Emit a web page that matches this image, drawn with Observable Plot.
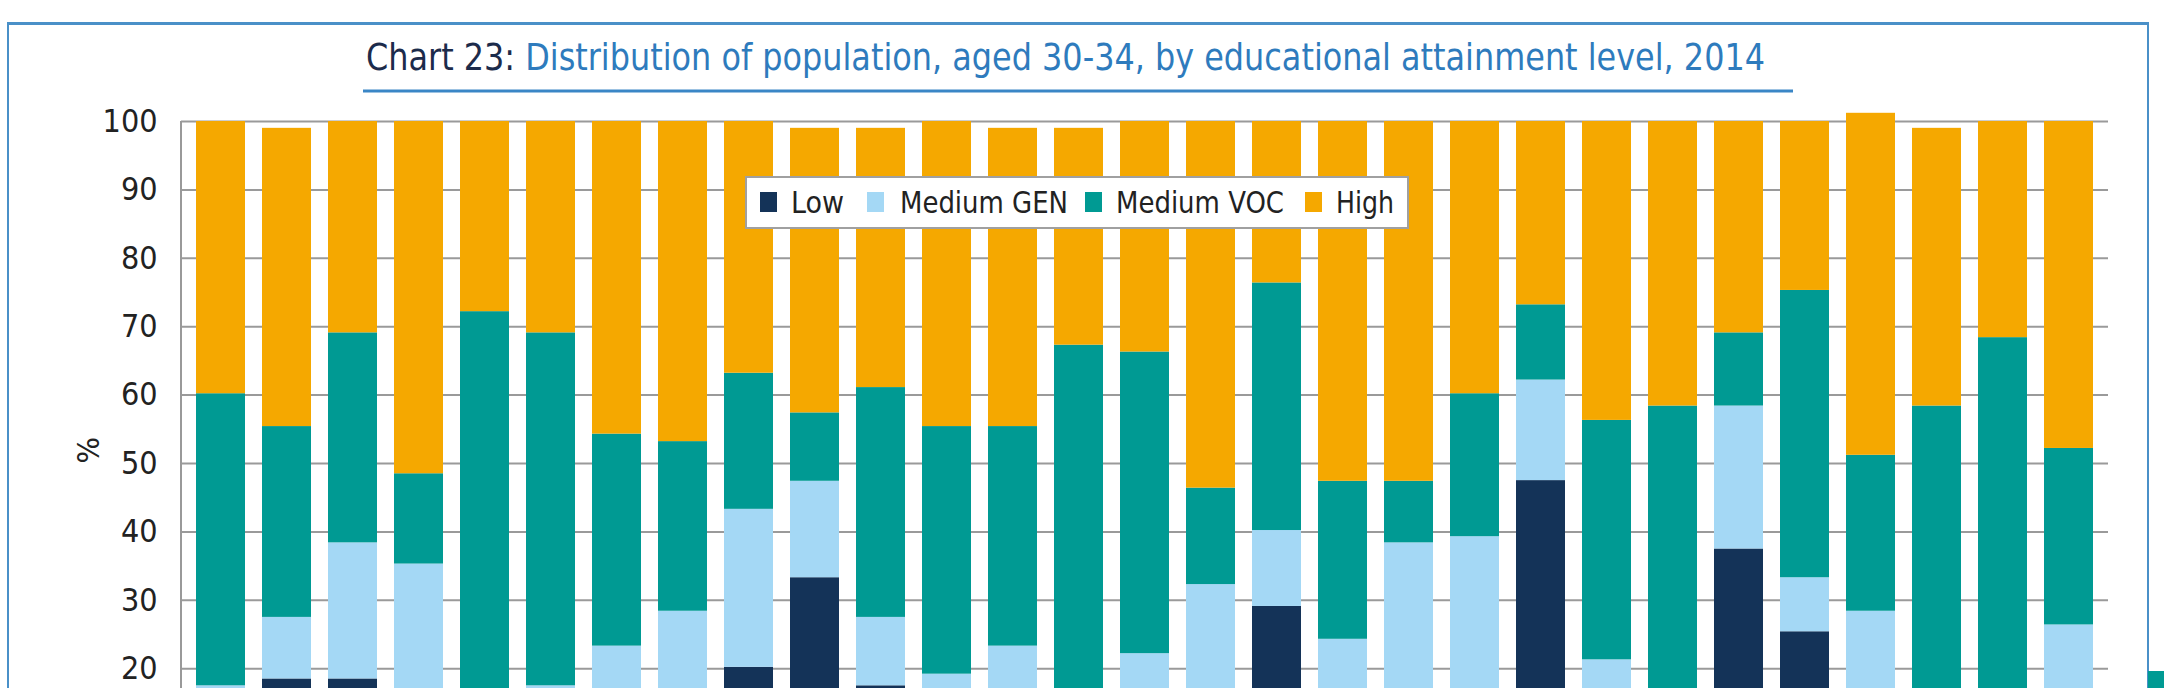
<!DOCTYPE html>
<html>
<head>
<meta charset="utf-8">
<script src="https://cdn.jsdelivr.net/npm/d3@7"></script>
<script src="https://cdn.jsdelivr.net/npm/@observablehq/plot@0.6"></script>
<style>
  html, body { margin: 0; padding: 0; background: #fff; }
  body { width: 2166px; height: 688px; overflow: hidden; position: relative;
         font-family: "DejaVu Sans Condensed", "Liberation Sans Narrow", "DejaVu Sans", sans-serif; }
  #frame { position: absolute; left: 7px; top: 22px; width: 2142px; height: 1000px; box-sizing: border-box;
           border: 2px solid #4a90c8; border-top-width: 3px; }
  #title, #chart, #legend { position: absolute; left: 0; top: 0; }
  #tab { position: absolute; left: 2148px; top: 671px; width: 16px; height: 40px; background: #009a93; }
</style>
</head>
<body>
<div id="frame"></div>
<div id="chart"></div>
<svg id="title" width="2166" height="110"></svg>
<svg id="legend" width="2166" height="260" style="pointer-events:none"></svg>
<div id="tab"></div>
<script>
// ---- data (shares in %) ----
const countries = ["AT","BE","BG","CY","CZ","DE","DK","EE","EL","ES","EU28","FI","FR","HR","HU",
                   "IE","IT","LT","LU","LV","MT","NL","PL","PT","RO","SE","SI","SK","UK"];
const levels = ["Low", "Medium GEN", "Medium VOC", "High"];
const colors = ["#143358", "#a4d8f5", "#009a93", "#f5a800"];
const low       = [10, 18.5, 18.5,  8,  6, 12, 15, 11, 20.2, 33.3, 17.5,  9, 15,  4, 13,
                   12, 29.1,  5, 13, 11, 47.5, 13,  5, 37.5, 25.4, 11,  5,  6, 14];
const mediumGen = [7.5,  9.0, 19.9, 27.3,  4,  5.5,  8.3, 17.4, 23.1, 14.1, 10.0, 10.2,  8.3,  9,  9.2,
                   20.3, 11.1, 19.3, 25.4, 28.3, 14.7,  8.3,  6, 20.9,  7.9, 17.4,  8,  3, 12.4];
const mediumVoc = [42.7, 27.9, 30.7, 13.2, 62.2, 51.6, 31.0, 24.8, 19.9, 10.0, 33.6, 36.2, 32.1, 54.3, 44.1,
                   14.1, 36.2, 23.1,  9.0, 20.9, 11.0, 35.0, 47.4, 10.7, 42.0, 22.8, 45.4, 59.4, 25.8];
const high      = [39.8, 43.6, 30.9, 51.5, 27.8, 30.9, 45.7, 46.8, 36.8, 41.6, 37.9, 44.6, 43.6, 31.7, 33.7,
                   53.6, 23.6, 52.6, 52.6, 39.8, 26.8, 43.7, 41.6, 30.9, 24.7, 50.0, 40.6, 31.6, 47.8];
const gridTicks = [0, 10, 20, 30, 40, 50, 60, 70, 80, 90, 100];
const labelTicks = [20, 30, 40, 50, 60, 70, 80, 90, 100]; // the labels visible in the picture
const titleLead = "Chart 23:";
const titleRest = " Distribution of population, aged 30-34, by educational attainment level, 2014";
const yLabel = "%";

const series = [low, mediumGen, mediumVoc, high];
const rows = [];
countries.forEach((c, i) => levels.forEach((lv, j) => rows.push({country: c, level: lv, value: series[j][i]})));

const FONT = '"DejaVu Sans Condensed", "Liberation Sans Narrow", "DejaVu Sans", sans-serif';

// y axis line drawn along the left edge of the plot area
const axisLine = (index, scales, values, dimensions) => {
  const x = dimensions.marginLeft;
  return d3.create("svg:line")
    .attr("x1", x).attr("x2", x)
    .attr("y1", scales.y(0)).attr("y2", scales.y(100))
    .attr("stroke", "#999").attr("stroke-width", 2).node();
};

const chart = Plot.plot({
  width: 2166,
  height: 865,
  marginLeft: 181,
  marginRight: 58,
  marginTop: 121,
  marginBottom: 60,
  style: {fontFamily: FONT, fontSize: "32px", color: "#222", background: "transparent", overflow: "visible"},
  x: {domain: countries, paddingInner: 0.255, paddingOuter: 0.13, align: 0.5, label: null, axis: null},
  y: {domain: [0, 100], label: null},
  color: {domain: levels, range: colors},
  marks: [
    Plot.gridY({ticks: gridTicks, stroke: "#9a9a9a", strokeOpacity: 1, strokeWidth: 2}),
    Plot.barY(rows, {x: "country", y: "value", fill: "level"}),
    axisLine,
    Plot.axisY({ticks: labelTicks, tickSize: 0, tickPadding: 24, label: null, fontSize: 32}),
    Plot.text([yLabel], {text: d => d, y: [50], frameAnchor: "left", dx: -92, rotate: -90, fontSize: 31, fill: "#222"})
  ]
});
document.getElementById("chart").appendChild(chart);

// ---- title ----
const t = d3.select("#title");
const tt = t.append("text").attr("x", 366).attr("y", 70)
  .attr("font-family", FONT).attr("font-size", 38)
  .attr("textLength", 1399).attr("lengthAdjust", "spacingAndGlyphs");
tt.append("tspan").attr("fill", "#1c2b4b").text(titleLead);
tt.append("tspan").attr("fill", "#2e7bbd").text(titleRest);
t.append("line").attr("x1", 363).attr("x2", 1793).attr("y1", 91).attr("y2", 91)
  .attr("stroke", "#3a86c6").attr("stroke-width", 3);

// ---- legend ----
const lg = d3.select("#legend");
lg.append("rect").attr("x", 746).attr("y", 177).attr("width", 662).attr("height", 51)
  .attr("fill", "#fff").attr("stroke", "#a0a0a0").attr("stroke-width", 2);
const swX = [760, 867, 1085, 1305];
const txX = [791, 900, 1116, 1336];
const txW = [53, 168, 168, 58];
levels.forEach((lv, i) => {
  lg.append("rect").attr("x", swX[i]).attr("y", 192).attr("width", 17).attr("height", 20).attr("fill", colors[i]);
  lg.append("text").attr("x", txX[i]).attr("y", 212.5)
    .attr("font-family", FONT).attr("font-size", 31).attr("fill", "#222")
    .attr("textLength", txW[i]).attr("lengthAdjust", "spacingAndGlyphs").text(lv);
});
</script>
</body>
</html>
